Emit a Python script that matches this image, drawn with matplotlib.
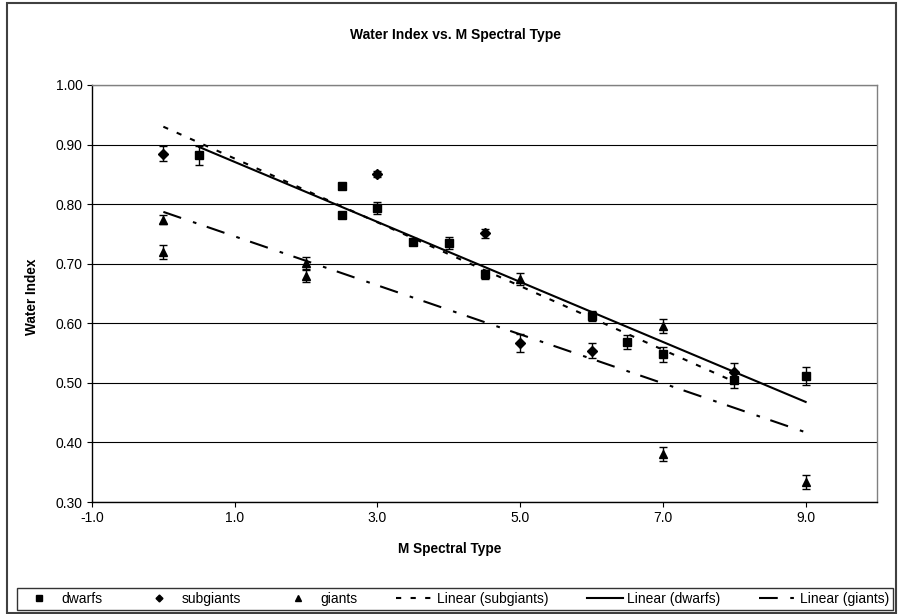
import matplotlib
matplotlib.use("Agg")
import matplotlib.pyplot as plt
from matplotlib.lines import Line2D
from matplotlib.patches import Rectangle

plt.rcParams["font.family"] = ["Liberation Sans", "DejaVu Sans"]

# values
DWARF_TYPE = [0.5, 2.5, 2.5, 3.0, 3.5, 4.0, 4.5, 6.0, 6.5, 7.0, 8.0, 9.0]
DWARF_INDEX = [0.882, 0.830, 0.781, 0.793, 0.737, 0.735, 0.682, 0.612, 0.568, 0.548, 0.504, 0.511]
DWARF_ERR = [0.016, 0.004, 0.004, 0.010, 0.005, 0.010, 0.008, 0.008, 0.012, 0.013, 0.012, 0.015]

SUBGIANT_TYPE = [0.0, 3.0, 4.5, 5.0, 6.0, 8.0]
SUBGIANT_INDEX = [0.885, 0.851, 0.751, 0.567, 0.554, 0.519]
SUBGIANT_ERR = [0.012, 0.005, 0.008, 0.015, 0.013, 0.015]

GIANT_TYPE = [0.0, 0.0, 2.0, 2.0, 5.0, 7.0, 7.0, 9.0]
GIANT_INDEX = [0.774, 0.720, 0.701, 0.679, 0.674, 0.596, 0.380, 0.334]
GIANT_ERR = [0.008, 0.012, 0.010, 0.010, 0.010, 0.012, 0.012, 0.012]

# trendline end points as drawn in the reference
TREND_SUBGIANT_X = [0.0, 8.0]
TREND_SUBGIANT_Y = [0.930, 0.502]
TREND_DWARF_X = [0.5, 9.0]
TREND_DWARF_Y = [0.896, 0.468]
TREND_GIANT_X = [0.0, 9.0]
TREND_GIANT_Y = [0.787, 0.417]

X_TICKS = [-1.0, 1.0, 3.0, 5.0, 7.0, 9.0]
Y_TICKS = [0.30, 0.40, 0.50, 0.60, 0.70, 0.80, 0.90, 1.00]

W, H = 898, 614
SUB_DASH = (2.5, 4.5)
GIANT_DASH = (9, 6, 1.75, 5.25)


def main() -> None:
    fig = plt.figure(figsize=(W / 100, H / 100), dpi=100)
    ax = fig.add_axes([92 / W, 1 - 502 / H, (877 - 92) / W, (502 - 85) / H])

    err_style = dict(color="black", linestyle="none", capsize=3, elinewidth=1, capthick=1, zorder=3)
    ax.errorbar(DWARF_TYPE, DWARF_INDEX, yerr=DWARF_ERR, marker="s", ms=5.5, **err_style)
    ax.errorbar(SUBGIANT_TYPE, SUBGIANT_INDEX, yerr=SUBGIANT_ERR, marker="D", ms=5, **err_style)
    ax.errorbar(GIANT_TYPE, GIANT_INDEX, yerr=GIANT_ERR, marker="^", ms=6, **err_style)

    ax.plot(TREND_SUBGIANT_X, TREND_SUBGIANT_Y, color="black", lw=1.5, dashes=SUB_DASH, zorder=4)
    ax.plot(TREND_DWARF_X, TREND_DWARF_Y, color="black", lw=1.5, zorder=4)
    ax.plot(TREND_GIANT_X, TREND_GIANT_Y, color="black", lw=1.5, dashes=GIANT_DASH, zorder=4)

    ax.set_xlim(-1, 10)
    ax.set_ylim(0.30, 1.00)
    ax.set_xticks(X_TICKS)
    ax.set_xticklabels([f"{t:.1f}" for t in X_TICKS])
    ax.set_yticks(Y_TICKS)
    ax.set_yticklabels([f"{t:.2f}" for t in Y_TICKS])
    ax.tick_params(direction="out", length=3.6, width=0.8, labelsize=10, pad=3, color="black")
    ax.yaxis.grid(True, color="black", lw=0.8)
    ax.set_axisbelow(True)
    for side in ["left", "bottom"]:
        ax.spines[side].set_color("black")
        ax.spines[side].set_linewidth(1)
    for side in ["right", "top"]:
        ax.spines[side].set_color("#808080")
        ax.spines[side].set_linewidth(1)

    fig.text(455 / W, 1 - 35 / H, "Water Index vs. M Spectral Type", ha="center", va="center",
             fontsize=10, fontweight="bold")
    fig.text(450 / W, 1 - 549 / H, "M Spectral Type", ha="center", va="center",
             fontsize=9.8, fontweight="bold")
    fig.text(32 / W, 1 - 297 / H, "Water Index", ha="center", va="center", rotation=90,
             fontsize=9.8, fontweight="bold")

    handles = [
        Line2D([], [], color="black", marker="s", ms=4.5, linestyle="none"),
        Line2D([], [], color="black", marker="D", ms=3.5, linestyle="none"),
        Line2D([], [], color="black", marker="^", ms=4.5, linestyle="none"),
        Line2D([], [], color="black", lw=1.5, dashes=SUB_DASH),
        Line2D([], [], color="black", lw=1.5),
        Line2D([], [], color="black", lw=1.5, dashes=GIANT_DASH),
    ]
    labels = ["dwarfs", "subgiants", "giants", "Linear (subgiants)", "Linear (dwarfs)", "Linear (giants)"]
    leg = fig.legend(handles, labels, loc="lower left", ncol=6, mode="expand",
                     bbox_to_anchor=(17 / W, 1 - 610 / H, (893 - 17) / W, 27 / H),
                     frameon=True, fancybox=False, edgecolor="black", borderaxespad=0,
                     handlelength=2.6, handletextpad=0.3, columnspacing=1.0, fontsize=10,
                     borderpad=0.3)
    leg.get_frame().set_linewidth(1)

    fig.patches.append(Rectangle((7 / W, 1 - 613 / H), (896 - 7) / W, (613 - 3) / H,
                                 transform=fig.transFigure, fill=False, edgecolor="#404040", lw=1.5))

    fig.savefig("out.png", dpi=100)


if __name__ == "__main__":
    main()
